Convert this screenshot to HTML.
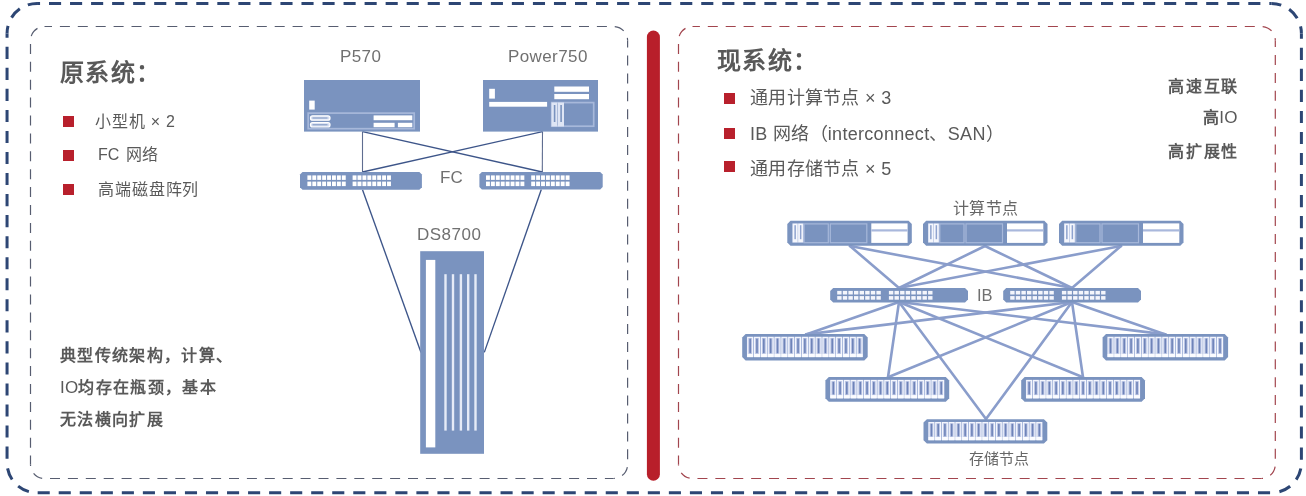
<!DOCTYPE html>
<html lang="zh-CN">
<head>
<meta charset="utf-8">
<style>
html,body{margin:0;padding:0;background:#fff;}
body{width:1306px;height:496px;position:relative;overflow:hidden;font-family:"Liberation Sans",sans-serif;color:#595959;}
svg{position:absolute;left:0;top:0;}
.t{position:absolute;white-space:nowrap;line-height:1;will-change:transform;}
.title{font-size:24px;font-weight:bold;letter-spacing:1.4px;}
.li{font-size:16px;letter-spacing:0.9px;}
.ri{font-size:18px;letter-spacing:0.3px;}
.bold16{font-size:16px;font-weight:bold;letter-spacing:1.35px;}
.lab{font-size:17px;color:#707070;letter-spacing:0.4px;}
.sq{position:absolute;background:#b8202c;}
</style>
</head>
<body>
<svg width="1306" height="496" viewBox="0 0 1306 496">
  <!-- frames -->
<path d="M37.05 3.40 H1271.40" fill="none" stroke="#2d4674" stroke-width="3" stroke-dasharray="12.10 8.94" stroke-dashoffset="9.090"/>
<path d="M1301.40 33.40 V462.80" fill="none" stroke="#2d4674" stroke-width="3" stroke-dasharray="12.10 8.94" stroke-dashoffset="6.660"/>
<path d="M37.05 492.80 H1271.40" fill="none" stroke="#2d4674" stroke-width="3" stroke-dasharray="12.10 8.94" stroke-dashoffset="20.430"/>
<path d="M7.05 33.40 V462.80" fill="none" stroke="#2d4674" stroke-width="3" stroke-dasharray="12.10 8.94" stroke-dashoffset="7.660"/>
<path d="M1271.40 3.40 A30 30 0 0 1 1301.40 33.40" fill="none" stroke="#2d4674" stroke-width="3" stroke-dasharray="12.10 8.94" stroke-dashoffset="2.080"/>
<path d="M1301.40 462.80 A30 30 0 0 1 1271.40 492.80" fill="none" stroke="#2d4674" stroke-width="3" stroke-dasharray="12.10 8.94" stroke-dashoffset="15.260"/>
<path d="M37.05 492.80 A30 30 0 0 1 7.05 462.80" fill="none" stroke="#2d4674" stroke-width="3" stroke-dasharray="12.10 8.94" stroke-dashoffset="12.710"/>
<path d="M7.05 33.40 A30 30 0 0 1 37.05 3.40" fill="none" stroke="#2d4674" stroke-width="3" stroke-dasharray="12.10 8.94" stroke-dashoffset="4.440"/>
<path d="M44.50 26.50 H613.60" fill="none" stroke="#575d70" stroke-width="1.2" stroke-dasharray="10.00 7.90" stroke-dashoffset="2.500"/>
<path d="M627.60 40.50 V464.50" fill="none" stroke="#575d70" stroke-width="1.2" stroke-dasharray="10.00 7.90" stroke-dashoffset="2.900"/>
<path d="M44.50 478.50 H613.60" fill="none" stroke="#575d70" stroke-width="1.2" stroke-dasharray="10.00 7.90" stroke-dashoffset="12.400"/>
<path d="M30.50 40.50 V464.50" fill="none" stroke="#575d70" stroke-width="1.2" stroke-dasharray="10.00 7.90" stroke-dashoffset="14.500"/>
<path d="M613.60 26.50 A14 14 0 0 1 627.60 40.50" fill="none" stroke="#575d70" stroke-width="1.2" stroke-dasharray="10.00 7.90" stroke-dashoffset="16.700"/>
<path d="M627.60 464.50 A14 14 0 0 1 613.60 478.50" fill="none" stroke="#575d70" stroke-width="1.2" stroke-dasharray="10.00 7.90" stroke-dashoffset="15.200"/>
<path d="M44.50 478.50 A14 14 0 0 1 30.50 464.50" fill="none" stroke="#575d70" stroke-width="1.2" stroke-dasharray="10.00 7.90" stroke-dashoffset="15.500"/>
<path d="M30.50 40.50 A14 14 0 0 1 44.50 26.50" fill="none" stroke="#575d70" stroke-width="1.2" stroke-dasharray="10.00 7.90" stroke-dashoffset="13.400"/>
<path d="M692.50 26.50 H1261.30" fill="none" stroke="#a2454e" stroke-width="1.2" stroke-dasharray="10.00 7.90" stroke-dashoffset="2.600"/>
<path d="M1275.30 40.50 V464.50" fill="none" stroke="#a2454e" stroke-width="1.2" stroke-dasharray="10.00 7.90" stroke-dashoffset="3.400"/>
<path d="M692.50 478.50 H1261.30" fill="none" stroke="#a2454e" stroke-width="1.2" stroke-dasharray="10.00 7.90" stroke-dashoffset="12.950"/>
<path d="M678.50 40.50 V464.50" fill="none" stroke="#a2454e" stroke-width="1.2" stroke-dasharray="10.00 7.90" stroke-dashoffset="14.500"/>
<path d="M1261.30 26.50 A14 14 0 0 1 1275.30 40.50" fill="none" stroke="#a2454e" stroke-width="1.2" stroke-dasharray="10.00 7.90" stroke-dashoffset="16.500"/>
<path d="M1275.30 464.50 A14 14 0 0 1 1261.30 478.50" fill="none" stroke="#a2454e" stroke-width="1.2" stroke-dasharray="10.00 7.90" stroke-dashoffset="15.700"/>
<path d="M692.50 478.50 A14 14 0 0 1 678.50 464.50" fill="none" stroke="#a2454e" stroke-width="1.2" stroke-dasharray="10.00 7.90" stroke-dashoffset="14.950"/>
<path d="M678.50 40.50 A14 14 0 0 1 692.50 26.50" fill="none" stroke="#a2454e" stroke-width="1.2" stroke-dasharray="10.00 7.90" stroke-dashoffset="13.400"/>
  <line x1="653.4" y1="37.1" x2="653.4" y2="474.2" stroke="#b81f2a" stroke-width="13" stroke-linecap="round"/>

  <!-- left lines -->
  <g stroke="#5f6d90" stroke-width="1.1" fill="none">
    <line x1="362.5" y1="131.6" x2="362.5" y2="172"/>
    <line x1="542.5" y1="131.6" x2="542.3" y2="172"/>
  </g>
  <g stroke="#3d5589" stroke-width="1.35" fill="none">
    <line x1="362.5" y1="131.6" x2="542.3" y2="172"/>
    <line x1="542.5" y1="131.6" x2="362.5" y2="172"/>
    <line x1="362.5" y1="189.7" x2="421" y2="352.4"/>
    <line x1="541.3" y1="189.5" x2="484.3" y2="352.4"/>
  </g>

  <!-- P570 -->
  <g>
    <rect x="304" y="80" width="116" height="51.6" fill="#7a93bf"/>
    <rect x="309.2" y="100.6" width="5.5" height="9" fill="#fff"/>
    <rect x="308.2" y="113.1" width="106" height="15.6" fill="none" stroke="#a7b8da" stroke-width="1.7"/>
    <rect x="310.5" y="115.8" width="19.5" height="4.4" rx="2" fill="#d5ddf0" stroke="#fff" stroke-width="1.2"/>
    <rect x="310.5" y="122.6" width="19.5" height="4.4" rx="2" fill="#d5ddf0" stroke="#fff" stroke-width="1.2"/>
    <path d="M312.5 118 H327.5 M312.5 124.8 H327.5" stroke="#7a93bf" stroke-width="1"/>
    <rect x="373.6" y="115.4" width="38.7" height="4.8" fill="#fff"/>
    <rect x="373.6" y="122.8" width="21" height="4.4" fill="#fff"/>
    <rect x="397.9" y="122.8" width="14.4" height="4.4" fill="#fff"/>
  </g>
  <!-- Power750 -->
  <g>
    <rect x="483" y="80" width="115" height="51.6" fill="#7a93bf"/>
    <rect x="489.2" y="88.8" width="5.7" height="9.8" fill="#fff"/>
    <rect x="489.2" y="101.9" width="57.9" height="4.8" fill="#fff"/>
    <rect x="554.3" y="86.5" width="34.7" height="5.3" fill="#fff"/>
    <rect x="554.3" y="94" width="34.7" height="5.2" fill="#fff"/>
    <rect x="551.7" y="102.6" width="42" height="23.6" fill="none" stroke="#a7b8da" stroke-width="1.7"/>
    <rect x="551.5" y="102.5" width="6" height="24" fill="#dfe6f5"/>
    <rect x="558" y="102.5" width="6" height="24" fill="#dfe6f5"/>
    <rect x="553.8" y="105" width="1.6" height="17" fill="#7a93bf"/>
    <rect x="560.3" y="105" width="1.6" height="17" fill="#7a93bf"/>
  </g>
  <!-- FC switches -->
  <g id="fcsw">
    <path d="M302.5 172.1 H419.4 L421.9 174.6 V187.2 L419.4 189.7 H302.5 L300 187.2 V174.6 Z" fill="#7a93bf"/>
  </g>
  <path d="M481.9 172 H600.2 L602.7 174.5 V187 L600.2 189.5 H481.9 L479.4 187 V174.5 Z" fill="#7a93bf"/>
  <rect x="307.40" y="175.40" width="3.9" height="4.5" fill="#fff"/>
<rect x="312.32" y="175.40" width="3.9" height="4.5" fill="#fff"/>
<rect x="317.24" y="175.40" width="3.9" height="4.5" fill="#fff"/>
<rect x="322.16" y="175.40" width="3.9" height="4.5" fill="#fff"/>
<rect x="327.08" y="175.40" width="3.9" height="4.5" fill="#fff"/>
<rect x="332.00" y="175.40" width="3.9" height="4.5" fill="#fff"/>
<rect x="336.92" y="175.40" width="3.9" height="4.5" fill="#fff"/>
<rect x="341.84" y="175.40" width="3.9" height="4.5" fill="#fff"/>
<rect x="307.40" y="181.60" width="3.9" height="4.5" fill="#fff"/>
<rect x="312.32" y="181.60" width="3.9" height="4.5" fill="#fff"/>
<rect x="317.24" y="181.60" width="3.9" height="4.5" fill="#fff"/>
<rect x="322.16" y="181.60" width="3.9" height="4.5" fill="#fff"/>
<rect x="327.08" y="181.60" width="3.9" height="4.5" fill="#fff"/>
<rect x="332.00" y="181.60" width="3.9" height="4.5" fill="#fff"/>
<rect x="336.92" y="181.60" width="3.9" height="4.5" fill="#fff"/>
<rect x="341.84" y="181.60" width="3.9" height="4.5" fill="#fff"/>
<rect x="352.60" y="175.40" width="3.9" height="4.5" fill="#fff"/>
<rect x="357.52" y="175.40" width="3.9" height="4.5" fill="#fff"/>
<rect x="362.44" y="175.40" width="3.9" height="4.5" fill="#fff"/>
<rect x="367.36" y="175.40" width="3.9" height="4.5" fill="#fff"/>
<rect x="372.28" y="175.40" width="3.9" height="4.5" fill="#fff"/>
<rect x="377.20" y="175.40" width="3.9" height="4.5" fill="#fff"/>
<rect x="382.12" y="175.40" width="3.9" height="4.5" fill="#fff"/>
<rect x="387.04" y="175.40" width="3.9" height="4.5" fill="#fff"/>
<rect x="352.60" y="181.60" width="3.9" height="4.5" fill="#fff"/>
<rect x="357.52" y="181.60" width="3.9" height="4.5" fill="#fff"/>
<rect x="362.44" y="181.60" width="3.9" height="4.5" fill="#fff"/>
<rect x="367.36" y="181.60" width="3.9" height="4.5" fill="#fff"/>
<rect x="372.28" y="181.60" width="3.9" height="4.5" fill="#fff"/>
<rect x="377.20" y="181.60" width="3.9" height="4.5" fill="#fff"/>
<rect x="382.12" y="181.60" width="3.9" height="4.5" fill="#fff"/>
<rect x="387.04" y="181.60" width="3.9" height="4.5" fill="#fff"/><rect x="486.00" y="175.40" width="3.9" height="4.5" fill="#fff"/>
<rect x="490.92" y="175.40" width="3.9" height="4.5" fill="#fff"/>
<rect x="495.84" y="175.40" width="3.9" height="4.5" fill="#fff"/>
<rect x="500.76" y="175.40" width="3.9" height="4.5" fill="#fff"/>
<rect x="505.68" y="175.40" width="3.9" height="4.5" fill="#fff"/>
<rect x="510.60" y="175.40" width="3.9" height="4.5" fill="#fff"/>
<rect x="515.52" y="175.40" width="3.9" height="4.5" fill="#fff"/>
<rect x="520.44" y="175.40" width="3.9" height="4.5" fill="#fff"/>
<rect x="486.00" y="181.60" width="3.9" height="4.5" fill="#fff"/>
<rect x="490.92" y="181.60" width="3.9" height="4.5" fill="#fff"/>
<rect x="495.84" y="181.60" width="3.9" height="4.5" fill="#fff"/>
<rect x="500.76" y="181.60" width="3.9" height="4.5" fill="#fff"/>
<rect x="505.68" y="181.60" width="3.9" height="4.5" fill="#fff"/>
<rect x="510.60" y="181.60" width="3.9" height="4.5" fill="#fff"/>
<rect x="515.52" y="181.60" width="3.9" height="4.5" fill="#fff"/>
<rect x="520.44" y="181.60" width="3.9" height="4.5" fill="#fff"/>
<rect x="531.20" y="175.40" width="3.9" height="4.5" fill="#fff"/>
<rect x="536.12" y="175.40" width="3.9" height="4.5" fill="#fff"/>
<rect x="541.04" y="175.40" width="3.9" height="4.5" fill="#fff"/>
<rect x="545.96" y="175.40" width="3.9" height="4.5" fill="#fff"/>
<rect x="550.88" y="175.40" width="3.9" height="4.5" fill="#fff"/>
<rect x="555.80" y="175.40" width="3.9" height="4.5" fill="#fff"/>
<rect x="560.72" y="175.40" width="3.9" height="4.5" fill="#fff"/>
<rect x="565.64" y="175.40" width="3.9" height="4.5" fill="#fff"/>
<rect x="531.20" y="181.60" width="3.9" height="4.5" fill="#fff"/>
<rect x="536.12" y="181.60" width="3.9" height="4.5" fill="#fff"/>
<rect x="541.04" y="181.60" width="3.9" height="4.5" fill="#fff"/>
<rect x="545.96" y="181.60" width="3.9" height="4.5" fill="#fff"/>
<rect x="550.88" y="181.60" width="3.9" height="4.5" fill="#fff"/>
<rect x="555.80" y="181.60" width="3.9" height="4.5" fill="#fff"/>
<rect x="560.72" y="181.60" width="3.9" height="4.5" fill="#fff"/>
<rect x="565.64" y="181.60" width="3.9" height="4.5" fill="#fff"/>

  <!-- DS8700 -->
  <rect x="420.2" y="251.2" width="63.8" height="202.6" fill="#7a93bf"/>
  <rect x="425.9" y="259.9" width="9.4" height="187.5" fill="#fff"/>
  <g fill="#e6ebf7">
    <rect x="444.3" y="274.2" width="2.4" height="156.4"/>
    <rect x="451.8" y="274.2" width="2.4" height="156.4"/>
    <rect x="459.7" y="274.2" width="2.4" height="156.4"/>
    <rect x="467" y="274.2" width="2.4" height="156.4"/>
    <rect x="474.3" y="274.2" width="2.4" height="156.4"/>
  </g>

  <!-- right network lines -->
  <g stroke="#8a9dcb" stroke-width="2.6" fill="none" stroke-linecap="round">
    <line x1="850" y1="246" x2="899" y2="288"/>
    <line x1="850" y1="246" x2="1072" y2="288"/>
    <line x1="985" y1="246" x2="899" y2="288"/>
    <line x1="985" y1="246" x2="1072" y2="288"/>
    <line x1="1121" y1="246" x2="899" y2="288"/>
    <line x1="1121" y1="246" x2="1072" y2="288"/>
    <line x1="899" y1="302" x2="806" y2="334.4"/>
    <line x1="899" y1="302" x2="888" y2="377.3"/>
    <line x1="899" y1="302" x2="986" y2="419"/>
    <line x1="899" y1="302" x2="1083" y2="377.3"/>
    <line x1="899" y1="302" x2="1165.5" y2="334.4"/>
    <line x1="1072" y1="302" x2="806" y2="334.4"/>
    <line x1="1072" y1="302" x2="888" y2="377.3"/>
    <line x1="1072" y1="302" x2="986" y2="419"/>
    <line x1="1072" y1="302" x2="1083" y2="377.3"/>
    <line x1="1072" y1="302" x2="1165.5" y2="334.4"/>
  </g>
  <path d="M790.50 220.70 H908.60 L911.80 223.90 V242.50 L908.60 245.70 H790.50 L787.30 242.50 V223.90 Z" fill="#7a93bf"/>
<rect x="792.30" y="223.40" width="11.5" height="19.3" fill="#c5cfe8"/>
<rect x="792.80" y="223.70" width="4.6" height="18.5" fill="#f5f7fd"/>
<rect x="798.30" y="223.70" width="4.6" height="18.5" fill="#f5f7fd"/>
<rect x="794.40" y="225.20" width="1.5" height="14" fill="#8fa3cf"/>
<rect x="799.90" y="225.20" width="1.5" height="14" fill="#8fa3cf"/>
<rect x="804.10" y="223.90" width="24.2" height="18.8" fill="#7a93bf" stroke="#a7b8da" stroke-width="1.2"/>
<rect x="830.30" y="223.90" width="36.5" height="18.8" fill="#7a93bf" stroke="#a7b8da" stroke-width="1.2"/>
<rect x="871.30" y="223.40" width="36.3" height="19.5" fill="#fff"/>
<rect x="871.30" y="229.30" width="36.3" height="2.2" fill="#a9b8dc"/>
<path d="M926.20 220.70 H1044.30 L1047.50 223.90 V242.50 L1044.30 245.70 H926.20 L923.00 242.50 V223.90 Z" fill="#7a93bf"/>
<rect x="928.00" y="223.40" width="11.5" height="19.3" fill="#c5cfe8"/>
<rect x="928.50" y="223.70" width="4.6" height="18.5" fill="#f5f7fd"/>
<rect x="934.00" y="223.70" width="4.6" height="18.5" fill="#f5f7fd"/>
<rect x="930.10" y="225.20" width="1.5" height="14" fill="#8fa3cf"/>
<rect x="935.60" y="225.20" width="1.5" height="14" fill="#8fa3cf"/>
<rect x="939.80" y="223.90" width="24.2" height="18.8" fill="#7a93bf" stroke="#a7b8da" stroke-width="1.2"/>
<rect x="966.00" y="223.90" width="36.5" height="18.8" fill="#7a93bf" stroke="#a7b8da" stroke-width="1.2"/>
<rect x="1007.00" y="223.40" width="36.3" height="19.5" fill="#fff"/>
<rect x="1007.00" y="229.30" width="36.3" height="2.2" fill="#a9b8dc"/>
<path d="M1062.20 220.70 H1180.30 L1183.50 223.90 V242.50 L1180.30 245.70 H1062.20 L1059.00 242.50 V223.90 Z" fill="#7a93bf"/>
<rect x="1064.00" y="223.40" width="11.5" height="19.3" fill="#c5cfe8"/>
<rect x="1064.50" y="223.70" width="4.6" height="18.5" fill="#f5f7fd"/>
<rect x="1070.00" y="223.70" width="4.6" height="18.5" fill="#f5f7fd"/>
<rect x="1066.10" y="225.20" width="1.5" height="14" fill="#8fa3cf"/>
<rect x="1071.60" y="225.20" width="1.5" height="14" fill="#8fa3cf"/>
<rect x="1075.80" y="223.90" width="24.2" height="18.8" fill="#7a93bf" stroke="#a7b8da" stroke-width="1.2"/>
<rect x="1102.00" y="223.90" width="36.5" height="18.8" fill="#7a93bf" stroke="#a7b8da" stroke-width="1.2"/>
<rect x="1143.00" y="223.40" width="36.3" height="19.5" fill="#fff"/>
<rect x="1143.00" y="229.30" width="36.3" height="2.2" fill="#a9b8dc"/>
<path d="M833.20 288.00 H965.00 L968.00 291.00 V299.40 L965.00 302.40 H833.20 L830.20 299.40 V291.00 Z" fill="#7a93bf"/><path d="M1006.20 288.00 H1138.00 L1141.00 291.00 V299.40 L1138.00 302.40 H1006.20 L1003.20 299.40 V291.00 Z" fill="#7a93bf"/><rect x="837.20" y="290.90" width="4.4" height="3.6" fill="#f4f6fc"/>
<rect x="842.80" y="290.90" width="4.4" height="3.6" fill="#f4f6fc"/>
<rect x="848.40" y="290.90" width="4.4" height="3.6" fill="#f4f6fc"/>
<rect x="854.00" y="290.90" width="4.4" height="3.6" fill="#f4f6fc"/>
<rect x="859.60" y="290.90" width="4.4" height="3.6" fill="#f4f6fc"/>
<rect x="865.20" y="290.90" width="4.4" height="3.6" fill="#f4f6fc"/>
<rect x="870.80" y="290.90" width="4.4" height="3.6" fill="#f4f6fc"/>
<rect x="876.40" y="290.90" width="4.4" height="3.6" fill="#f4f6fc"/>
<rect x="837.20" y="296.10" width="4.4" height="3.6" fill="#f4f6fc"/>
<rect x="842.80" y="296.10" width="4.4" height="3.6" fill="#f4f6fc"/>
<rect x="848.40" y="296.10" width="4.4" height="3.6" fill="#f4f6fc"/>
<rect x="854.00" y="296.10" width="4.4" height="3.6" fill="#f4f6fc"/>
<rect x="859.60" y="296.10" width="4.4" height="3.6" fill="#f4f6fc"/>
<rect x="865.20" y="296.10" width="4.4" height="3.6" fill="#f4f6fc"/>
<rect x="870.80" y="296.10" width="4.4" height="3.6" fill="#f4f6fc"/>
<rect x="876.40" y="296.10" width="4.4" height="3.6" fill="#f4f6fc"/>
<rect x="888.90" y="290.90" width="4.4" height="3.6" fill="#f4f6fc"/>
<rect x="894.50" y="290.90" width="4.4" height="3.6" fill="#f4f6fc"/>
<rect x="900.10" y="290.90" width="4.4" height="3.6" fill="#f4f6fc"/>
<rect x="905.70" y="290.90" width="4.4" height="3.6" fill="#f4f6fc"/>
<rect x="911.30" y="290.90" width="4.4" height="3.6" fill="#f4f6fc"/>
<rect x="916.90" y="290.90" width="4.4" height="3.6" fill="#f4f6fc"/>
<rect x="922.50" y="290.90" width="4.4" height="3.6" fill="#f4f6fc"/>
<rect x="928.10" y="290.90" width="4.4" height="3.6" fill="#f4f6fc"/>
<rect x="888.90" y="296.10" width="4.4" height="3.6" fill="#f4f6fc"/>
<rect x="894.50" y="296.10" width="4.4" height="3.6" fill="#f4f6fc"/>
<rect x="900.10" y="296.10" width="4.4" height="3.6" fill="#f4f6fc"/>
<rect x="905.70" y="296.10" width="4.4" height="3.6" fill="#f4f6fc"/>
<rect x="911.30" y="296.10" width="4.4" height="3.6" fill="#f4f6fc"/>
<rect x="916.90" y="296.10" width="4.4" height="3.6" fill="#f4f6fc"/>
<rect x="922.50" y="296.10" width="4.4" height="3.6" fill="#f4f6fc"/>
<rect x="928.10" y="296.10" width="4.4" height="3.6" fill="#f4f6fc"/><rect x="1010.20" y="290.90" width="4.4" height="3.6" fill="#f4f6fc"/>
<rect x="1015.80" y="290.90" width="4.4" height="3.6" fill="#f4f6fc"/>
<rect x="1021.40" y="290.90" width="4.4" height="3.6" fill="#f4f6fc"/>
<rect x="1027.00" y="290.90" width="4.4" height="3.6" fill="#f4f6fc"/>
<rect x="1032.60" y="290.90" width="4.4" height="3.6" fill="#f4f6fc"/>
<rect x="1038.20" y="290.90" width="4.4" height="3.6" fill="#f4f6fc"/>
<rect x="1043.80" y="290.90" width="4.4" height="3.6" fill="#f4f6fc"/>
<rect x="1049.40" y="290.90" width="4.4" height="3.6" fill="#f4f6fc"/>
<rect x="1010.20" y="296.10" width="4.4" height="3.6" fill="#f4f6fc"/>
<rect x="1015.80" y="296.10" width="4.4" height="3.6" fill="#f4f6fc"/>
<rect x="1021.40" y="296.10" width="4.4" height="3.6" fill="#f4f6fc"/>
<rect x="1027.00" y="296.10" width="4.4" height="3.6" fill="#f4f6fc"/>
<rect x="1032.60" y="296.10" width="4.4" height="3.6" fill="#f4f6fc"/>
<rect x="1038.20" y="296.10" width="4.4" height="3.6" fill="#f4f6fc"/>
<rect x="1043.80" y="296.10" width="4.4" height="3.6" fill="#f4f6fc"/>
<rect x="1049.40" y="296.10" width="4.4" height="3.6" fill="#f4f6fc"/>
<rect x="1061.90" y="290.90" width="4.4" height="3.6" fill="#f4f6fc"/>
<rect x="1067.50" y="290.90" width="4.4" height="3.6" fill="#f4f6fc"/>
<rect x="1073.10" y="290.90" width="4.4" height="3.6" fill="#f4f6fc"/>
<rect x="1078.70" y="290.90" width="4.4" height="3.6" fill="#f4f6fc"/>
<rect x="1084.30" y="290.90" width="4.4" height="3.6" fill="#f4f6fc"/>
<rect x="1089.90" y="290.90" width="4.4" height="3.6" fill="#f4f6fc"/>
<rect x="1095.50" y="290.90" width="4.4" height="3.6" fill="#f4f6fc"/>
<rect x="1101.10" y="290.90" width="4.4" height="3.6" fill="#f4f6fc"/>
<rect x="1061.90" y="296.10" width="4.4" height="3.6" fill="#f4f6fc"/>
<rect x="1067.50" y="296.10" width="4.4" height="3.6" fill="#f4f6fc"/>
<rect x="1073.10" y="296.10" width="4.4" height="3.6" fill="#f4f6fc"/>
<rect x="1078.70" y="296.10" width="4.4" height="3.6" fill="#f4f6fc"/>
<rect x="1084.30" y="296.10" width="4.4" height="3.6" fill="#f4f6fc"/>
<rect x="1089.90" y="296.10" width="4.4" height="3.6" fill="#f4f6fc"/>
<rect x="1095.50" y="296.10" width="4.4" height="3.6" fill="#f4f6fc"/>
<rect x="1101.10" y="296.10" width="4.4" height="3.6" fill="#f4f6fc"/>
<path d="M745.60 334.00 H864.30 L867.70 337.40 V357.10 L864.30 360.50 H745.60 L742.20 357.10 V337.40 Z" fill="#7a93bf"/>
<rect x="746.80" y="336.60" width="116.30" height="20.50" fill="#8fa3d0"/>
<rect x="747.70" y="337.40" width="4.94" height="19.10" fill="#b9c4e4" stroke="#f4f6fd" stroke-width="1.2"/>
<rect x="747.15" y="353.90" width="5.94" height="3.2" fill="#fbfcff"/>
<rect x="749.35" y="338.60" width="1.6" height="14.70" rx="0.8" fill="#6e83b8"/>
<rect x="754.54" y="337.40" width="4.94" height="19.10" fill="#b9c4e4" stroke="#f4f6fd" stroke-width="1.2"/>
<rect x="753.99" y="353.90" width="5.94" height="3.2" fill="#fbfcff"/>
<rect x="756.19" y="338.60" width="1.6" height="14.70" rx="0.8" fill="#6e83b8"/>
<rect x="761.38" y="337.40" width="4.94" height="19.10" fill="#b9c4e4" stroke="#f4f6fd" stroke-width="1.2"/>
<rect x="760.83" y="353.90" width="5.94" height="3.2" fill="#fbfcff"/>
<rect x="763.03" y="338.60" width="1.6" height="14.70" rx="0.8" fill="#6e83b8"/>
<rect x="768.22" y="337.40" width="4.94" height="19.10" fill="#b9c4e4" stroke="#f4f6fd" stroke-width="1.2"/>
<rect x="767.67" y="353.90" width="5.94" height="3.2" fill="#fbfcff"/>
<rect x="769.87" y="338.60" width="1.6" height="14.70" rx="0.8" fill="#6e83b8"/>
<rect x="775.06" y="337.40" width="4.94" height="19.10" fill="#b9c4e4" stroke="#f4f6fd" stroke-width="1.2"/>
<rect x="774.51" y="353.90" width="5.94" height="3.2" fill="#fbfcff"/>
<rect x="776.71" y="338.60" width="1.6" height="14.70" rx="0.8" fill="#6e83b8"/>
<rect x="781.91" y="337.40" width="4.94" height="19.10" fill="#b9c4e4" stroke="#f4f6fd" stroke-width="1.2"/>
<rect x="781.36" y="353.90" width="5.94" height="3.2" fill="#fbfcff"/>
<rect x="783.56" y="338.60" width="1.6" height="14.70" rx="0.8" fill="#6e83b8"/>
<rect x="788.75" y="337.40" width="4.94" height="19.10" fill="#b9c4e4" stroke="#f4f6fd" stroke-width="1.2"/>
<rect x="788.20" y="353.90" width="5.94" height="3.2" fill="#fbfcff"/>
<rect x="790.40" y="338.60" width="1.6" height="14.70" rx="0.8" fill="#6e83b8"/>
<rect x="795.59" y="337.40" width="4.94" height="19.10" fill="#b9c4e4" stroke="#f4f6fd" stroke-width="1.2"/>
<rect x="795.04" y="353.90" width="5.94" height="3.2" fill="#fbfcff"/>
<rect x="797.24" y="338.60" width="1.6" height="14.70" rx="0.8" fill="#6e83b8"/>
<rect x="802.43" y="337.40" width="4.94" height="19.10" fill="#b9c4e4" stroke="#f4f6fd" stroke-width="1.2"/>
<rect x="801.88" y="353.90" width="5.94" height="3.2" fill="#fbfcff"/>
<rect x="804.08" y="338.60" width="1.6" height="14.70" rx="0.8" fill="#6e83b8"/>
<rect x="809.27" y="337.40" width="4.94" height="19.10" fill="#b9c4e4" stroke="#f4f6fd" stroke-width="1.2"/>
<rect x="808.72" y="353.90" width="5.94" height="3.2" fill="#fbfcff"/>
<rect x="810.92" y="338.60" width="1.6" height="14.70" rx="0.8" fill="#6e83b8"/>
<rect x="816.11" y="337.40" width="4.94" height="19.10" fill="#b9c4e4" stroke="#f4f6fd" stroke-width="1.2"/>
<rect x="815.56" y="353.90" width="5.94" height="3.2" fill="#fbfcff"/>
<rect x="817.76" y="338.60" width="1.6" height="14.70" rx="0.8" fill="#6e83b8"/>
<rect x="822.95" y="337.40" width="4.94" height="19.10" fill="#b9c4e4" stroke="#f4f6fd" stroke-width="1.2"/>
<rect x="822.40" y="353.90" width="5.94" height="3.2" fill="#fbfcff"/>
<rect x="824.60" y="338.60" width="1.6" height="14.70" rx="0.8" fill="#6e83b8"/>
<rect x="829.79" y="337.40" width="4.94" height="19.10" fill="#b9c4e4" stroke="#f4f6fd" stroke-width="1.2"/>
<rect x="829.24" y="353.90" width="5.94" height="3.2" fill="#fbfcff"/>
<rect x="831.44" y="338.60" width="1.6" height="14.70" rx="0.8" fill="#6e83b8"/>
<rect x="836.64" y="337.40" width="4.94" height="19.10" fill="#b9c4e4" stroke="#f4f6fd" stroke-width="1.2"/>
<rect x="836.09" y="353.90" width="5.94" height="3.2" fill="#fbfcff"/>
<rect x="838.29" y="338.60" width="1.6" height="14.70" rx="0.8" fill="#6e83b8"/>
<rect x="843.48" y="337.40" width="4.94" height="19.10" fill="#b9c4e4" stroke="#f4f6fd" stroke-width="1.2"/>
<rect x="842.93" y="353.90" width="5.94" height="3.2" fill="#fbfcff"/>
<rect x="845.13" y="338.60" width="1.6" height="14.70" rx="0.8" fill="#6e83b8"/>
<rect x="850.32" y="337.40" width="4.94" height="19.10" fill="#b9c4e4" stroke="#f4f6fd" stroke-width="1.2"/>
<rect x="849.77" y="353.90" width="5.94" height="3.2" fill="#fbfcff"/>
<rect x="851.97" y="338.60" width="1.6" height="14.70" rx="0.8" fill="#6e83b8"/>
<rect x="857.16" y="337.40" width="4.94" height="19.10" fill="#b9c4e4" stroke="#f4f6fd" stroke-width="1.2"/>
<rect x="856.61" y="353.90" width="5.94" height="3.2" fill="#fbfcff"/>
<rect x="858.81" y="338.60" width="1.6" height="14.70" rx="0.8" fill="#6e83b8"/>
<path d="M828.80 377.10 H945.80 L949.20 380.50 V398.30 L945.80 401.70 H828.80 L825.40 398.30 V380.50 Z" fill="#7a93bf"/>
<rect x="830.00" y="379.70" width="114.60" height="18.60" fill="#8fa3d0"/>
<rect x="830.90" y="380.50" width="4.84" height="17.20" fill="#b9c4e4" stroke="#f4f6fd" stroke-width="1.2"/>
<rect x="830.35" y="395.10" width="5.84" height="3.2" fill="#fbfcff"/>
<rect x="832.55" y="381.70" width="1.6" height="12.80" rx="0.8" fill="#6e83b8"/>
<rect x="837.64" y="380.50" width="4.84" height="17.20" fill="#b9c4e4" stroke="#f4f6fd" stroke-width="1.2"/>
<rect x="837.09" y="395.10" width="5.84" height="3.2" fill="#fbfcff"/>
<rect x="839.29" y="381.70" width="1.6" height="12.80" rx="0.8" fill="#6e83b8"/>
<rect x="844.38" y="380.50" width="4.84" height="17.20" fill="#b9c4e4" stroke="#f4f6fd" stroke-width="1.2"/>
<rect x="843.83" y="395.10" width="5.84" height="3.2" fill="#fbfcff"/>
<rect x="846.03" y="381.70" width="1.6" height="12.80" rx="0.8" fill="#6e83b8"/>
<rect x="851.12" y="380.50" width="4.84" height="17.20" fill="#b9c4e4" stroke="#f4f6fd" stroke-width="1.2"/>
<rect x="850.57" y="395.10" width="5.84" height="3.2" fill="#fbfcff"/>
<rect x="852.77" y="381.70" width="1.6" height="12.80" rx="0.8" fill="#6e83b8"/>
<rect x="857.86" y="380.50" width="4.84" height="17.20" fill="#b9c4e4" stroke="#f4f6fd" stroke-width="1.2"/>
<rect x="857.31" y="395.10" width="5.84" height="3.2" fill="#fbfcff"/>
<rect x="859.51" y="381.70" width="1.6" height="12.80" rx="0.8" fill="#6e83b8"/>
<rect x="864.61" y="380.50" width="4.84" height="17.20" fill="#b9c4e4" stroke="#f4f6fd" stroke-width="1.2"/>
<rect x="864.06" y="395.10" width="5.84" height="3.2" fill="#fbfcff"/>
<rect x="866.26" y="381.70" width="1.6" height="12.80" rx="0.8" fill="#6e83b8"/>
<rect x="871.35" y="380.50" width="4.84" height="17.20" fill="#b9c4e4" stroke="#f4f6fd" stroke-width="1.2"/>
<rect x="870.80" y="395.10" width="5.84" height="3.2" fill="#fbfcff"/>
<rect x="873.00" y="381.70" width="1.6" height="12.80" rx="0.8" fill="#6e83b8"/>
<rect x="878.09" y="380.50" width="4.84" height="17.20" fill="#b9c4e4" stroke="#f4f6fd" stroke-width="1.2"/>
<rect x="877.54" y="395.10" width="5.84" height="3.2" fill="#fbfcff"/>
<rect x="879.74" y="381.70" width="1.6" height="12.80" rx="0.8" fill="#6e83b8"/>
<rect x="884.83" y="380.50" width="4.84" height="17.20" fill="#b9c4e4" stroke="#f4f6fd" stroke-width="1.2"/>
<rect x="884.28" y="395.10" width="5.84" height="3.2" fill="#fbfcff"/>
<rect x="886.48" y="381.70" width="1.6" height="12.80" rx="0.8" fill="#6e83b8"/>
<rect x="891.57" y="380.50" width="4.84" height="17.20" fill="#b9c4e4" stroke="#f4f6fd" stroke-width="1.2"/>
<rect x="891.02" y="395.10" width="5.84" height="3.2" fill="#fbfcff"/>
<rect x="893.22" y="381.70" width="1.6" height="12.80" rx="0.8" fill="#6e83b8"/>
<rect x="898.31" y="380.50" width="4.84" height="17.20" fill="#b9c4e4" stroke="#f4f6fd" stroke-width="1.2"/>
<rect x="897.76" y="395.10" width="5.84" height="3.2" fill="#fbfcff"/>
<rect x="899.96" y="381.70" width="1.6" height="12.80" rx="0.8" fill="#6e83b8"/>
<rect x="905.05" y="380.50" width="4.84" height="17.20" fill="#b9c4e4" stroke="#f4f6fd" stroke-width="1.2"/>
<rect x="904.50" y="395.10" width="5.84" height="3.2" fill="#fbfcff"/>
<rect x="906.70" y="381.70" width="1.6" height="12.80" rx="0.8" fill="#6e83b8"/>
<rect x="911.79" y="380.50" width="4.84" height="17.20" fill="#b9c4e4" stroke="#f4f6fd" stroke-width="1.2"/>
<rect x="911.24" y="395.10" width="5.84" height="3.2" fill="#fbfcff"/>
<rect x="913.44" y="381.70" width="1.6" height="12.80" rx="0.8" fill="#6e83b8"/>
<rect x="918.54" y="380.50" width="4.84" height="17.20" fill="#b9c4e4" stroke="#f4f6fd" stroke-width="1.2"/>
<rect x="917.99" y="395.10" width="5.84" height="3.2" fill="#fbfcff"/>
<rect x="920.19" y="381.70" width="1.6" height="12.80" rx="0.8" fill="#6e83b8"/>
<rect x="925.28" y="380.50" width="4.84" height="17.20" fill="#b9c4e4" stroke="#f4f6fd" stroke-width="1.2"/>
<rect x="924.73" y="395.10" width="5.84" height="3.2" fill="#fbfcff"/>
<rect x="926.93" y="381.70" width="1.6" height="12.80" rx="0.8" fill="#6e83b8"/>
<rect x="932.02" y="380.50" width="4.84" height="17.20" fill="#b9c4e4" stroke="#f4f6fd" stroke-width="1.2"/>
<rect x="931.47" y="395.10" width="5.84" height="3.2" fill="#fbfcff"/>
<rect x="933.67" y="381.70" width="1.6" height="12.80" rx="0.8" fill="#6e83b8"/>
<rect x="938.76" y="380.50" width="4.84" height="17.20" fill="#b9c4e4" stroke="#f4f6fd" stroke-width="1.2"/>
<rect x="938.21" y="395.10" width="5.84" height="3.2" fill="#fbfcff"/>
<rect x="940.41" y="381.70" width="1.6" height="12.80" rx="0.8" fill="#6e83b8"/>
<path d="M926.90 419.20 H1043.90 L1047.30 422.60 V440.20 L1043.90 443.60 H926.90 L923.50 440.20 V422.60 Z" fill="#7a93bf"/>
<rect x="928.10" y="421.80" width="114.60" height="18.40" fill="#8fa3d0"/>
<rect x="929.00" y="422.60" width="4.84" height="17.00" fill="#b9c4e4" stroke="#f4f6fd" stroke-width="1.2"/>
<rect x="928.45" y="437.00" width="5.84" height="3.2" fill="#fbfcff"/>
<rect x="930.65" y="423.80" width="1.6" height="12.60" rx="0.8" fill="#6e83b8"/>
<rect x="935.74" y="422.60" width="4.84" height="17.00" fill="#b9c4e4" stroke="#f4f6fd" stroke-width="1.2"/>
<rect x="935.19" y="437.00" width="5.84" height="3.2" fill="#fbfcff"/>
<rect x="937.39" y="423.80" width="1.6" height="12.60" rx="0.8" fill="#6e83b8"/>
<rect x="942.48" y="422.60" width="4.84" height="17.00" fill="#b9c4e4" stroke="#f4f6fd" stroke-width="1.2"/>
<rect x="941.93" y="437.00" width="5.84" height="3.2" fill="#fbfcff"/>
<rect x="944.13" y="423.80" width="1.6" height="12.60" rx="0.8" fill="#6e83b8"/>
<rect x="949.22" y="422.60" width="4.84" height="17.00" fill="#b9c4e4" stroke="#f4f6fd" stroke-width="1.2"/>
<rect x="948.67" y="437.00" width="5.84" height="3.2" fill="#fbfcff"/>
<rect x="950.87" y="423.80" width="1.6" height="12.60" rx="0.8" fill="#6e83b8"/>
<rect x="955.96" y="422.60" width="4.84" height="17.00" fill="#b9c4e4" stroke="#f4f6fd" stroke-width="1.2"/>
<rect x="955.41" y="437.00" width="5.84" height="3.2" fill="#fbfcff"/>
<rect x="957.61" y="423.80" width="1.6" height="12.60" rx="0.8" fill="#6e83b8"/>
<rect x="962.71" y="422.60" width="4.84" height="17.00" fill="#b9c4e4" stroke="#f4f6fd" stroke-width="1.2"/>
<rect x="962.16" y="437.00" width="5.84" height="3.2" fill="#fbfcff"/>
<rect x="964.36" y="423.80" width="1.6" height="12.60" rx="0.8" fill="#6e83b8"/>
<rect x="969.45" y="422.60" width="4.84" height="17.00" fill="#b9c4e4" stroke="#f4f6fd" stroke-width="1.2"/>
<rect x="968.90" y="437.00" width="5.84" height="3.2" fill="#fbfcff"/>
<rect x="971.10" y="423.80" width="1.6" height="12.60" rx="0.8" fill="#6e83b8"/>
<rect x="976.19" y="422.60" width="4.84" height="17.00" fill="#b9c4e4" stroke="#f4f6fd" stroke-width="1.2"/>
<rect x="975.64" y="437.00" width="5.84" height="3.2" fill="#fbfcff"/>
<rect x="977.84" y="423.80" width="1.6" height="12.60" rx="0.8" fill="#6e83b8"/>
<rect x="982.93" y="422.60" width="4.84" height="17.00" fill="#b9c4e4" stroke="#f4f6fd" stroke-width="1.2"/>
<rect x="982.38" y="437.00" width="5.84" height="3.2" fill="#fbfcff"/>
<rect x="984.58" y="423.80" width="1.6" height="12.60" rx="0.8" fill="#6e83b8"/>
<rect x="989.67" y="422.60" width="4.84" height="17.00" fill="#b9c4e4" stroke="#f4f6fd" stroke-width="1.2"/>
<rect x="989.12" y="437.00" width="5.84" height="3.2" fill="#fbfcff"/>
<rect x="991.32" y="423.80" width="1.6" height="12.60" rx="0.8" fill="#6e83b8"/>
<rect x="996.41" y="422.60" width="4.84" height="17.00" fill="#b9c4e4" stroke="#f4f6fd" stroke-width="1.2"/>
<rect x="995.86" y="437.00" width="5.84" height="3.2" fill="#fbfcff"/>
<rect x="998.06" y="423.80" width="1.6" height="12.60" rx="0.8" fill="#6e83b8"/>
<rect x="1003.15" y="422.60" width="4.84" height="17.00" fill="#b9c4e4" stroke="#f4f6fd" stroke-width="1.2"/>
<rect x="1002.60" y="437.00" width="5.84" height="3.2" fill="#fbfcff"/>
<rect x="1004.80" y="423.80" width="1.6" height="12.60" rx="0.8" fill="#6e83b8"/>
<rect x="1009.89" y="422.60" width="4.84" height="17.00" fill="#b9c4e4" stroke="#f4f6fd" stroke-width="1.2"/>
<rect x="1009.34" y="437.00" width="5.84" height="3.2" fill="#fbfcff"/>
<rect x="1011.54" y="423.80" width="1.6" height="12.60" rx="0.8" fill="#6e83b8"/>
<rect x="1016.64" y="422.60" width="4.84" height="17.00" fill="#b9c4e4" stroke="#f4f6fd" stroke-width="1.2"/>
<rect x="1016.09" y="437.00" width="5.84" height="3.2" fill="#fbfcff"/>
<rect x="1018.29" y="423.80" width="1.6" height="12.60" rx="0.8" fill="#6e83b8"/>
<rect x="1023.38" y="422.60" width="4.84" height="17.00" fill="#b9c4e4" stroke="#f4f6fd" stroke-width="1.2"/>
<rect x="1022.83" y="437.00" width="5.84" height="3.2" fill="#fbfcff"/>
<rect x="1025.03" y="423.80" width="1.6" height="12.60" rx="0.8" fill="#6e83b8"/>
<rect x="1030.12" y="422.60" width="4.84" height="17.00" fill="#b9c4e4" stroke="#f4f6fd" stroke-width="1.2"/>
<rect x="1029.57" y="437.00" width="5.84" height="3.2" fill="#fbfcff"/>
<rect x="1031.77" y="423.80" width="1.6" height="12.60" rx="0.8" fill="#6e83b8"/>
<rect x="1036.86" y="422.60" width="4.84" height="17.00" fill="#b9c4e4" stroke="#f4f6fd" stroke-width="1.2"/>
<rect x="1036.31" y="437.00" width="5.84" height="3.2" fill="#fbfcff"/>
<rect x="1038.51" y="423.80" width="1.6" height="12.60" rx="0.8" fill="#6e83b8"/>
<path d="M1024.60 377.10 H1141.60 L1145.00 380.50 V398.30 L1141.60 401.70 H1024.60 L1021.20 398.30 V380.50 Z" fill="#7a93bf"/>
<rect x="1025.80" y="379.70" width="114.60" height="18.60" fill="#8fa3d0"/>
<rect x="1026.70" y="380.50" width="4.84" height="17.20" fill="#b9c4e4" stroke="#f4f6fd" stroke-width="1.2"/>
<rect x="1026.15" y="395.10" width="5.84" height="3.2" fill="#fbfcff"/>
<rect x="1028.35" y="381.70" width="1.6" height="12.80" rx="0.8" fill="#6e83b8"/>
<rect x="1033.44" y="380.50" width="4.84" height="17.20" fill="#b9c4e4" stroke="#f4f6fd" stroke-width="1.2"/>
<rect x="1032.89" y="395.10" width="5.84" height="3.2" fill="#fbfcff"/>
<rect x="1035.09" y="381.70" width="1.6" height="12.80" rx="0.8" fill="#6e83b8"/>
<rect x="1040.18" y="380.50" width="4.84" height="17.20" fill="#b9c4e4" stroke="#f4f6fd" stroke-width="1.2"/>
<rect x="1039.63" y="395.10" width="5.84" height="3.2" fill="#fbfcff"/>
<rect x="1041.83" y="381.70" width="1.6" height="12.80" rx="0.8" fill="#6e83b8"/>
<rect x="1046.92" y="380.50" width="4.84" height="17.20" fill="#b9c4e4" stroke="#f4f6fd" stroke-width="1.2"/>
<rect x="1046.37" y="395.10" width="5.84" height="3.2" fill="#fbfcff"/>
<rect x="1048.57" y="381.70" width="1.6" height="12.80" rx="0.8" fill="#6e83b8"/>
<rect x="1053.66" y="380.50" width="4.84" height="17.20" fill="#b9c4e4" stroke="#f4f6fd" stroke-width="1.2"/>
<rect x="1053.11" y="395.10" width="5.84" height="3.2" fill="#fbfcff"/>
<rect x="1055.31" y="381.70" width="1.6" height="12.80" rx="0.8" fill="#6e83b8"/>
<rect x="1060.41" y="380.50" width="4.84" height="17.20" fill="#b9c4e4" stroke="#f4f6fd" stroke-width="1.2"/>
<rect x="1059.86" y="395.10" width="5.84" height="3.2" fill="#fbfcff"/>
<rect x="1062.06" y="381.70" width="1.6" height="12.80" rx="0.8" fill="#6e83b8"/>
<rect x="1067.15" y="380.50" width="4.84" height="17.20" fill="#b9c4e4" stroke="#f4f6fd" stroke-width="1.2"/>
<rect x="1066.60" y="395.10" width="5.84" height="3.2" fill="#fbfcff"/>
<rect x="1068.80" y="381.70" width="1.6" height="12.80" rx="0.8" fill="#6e83b8"/>
<rect x="1073.89" y="380.50" width="4.84" height="17.20" fill="#b9c4e4" stroke="#f4f6fd" stroke-width="1.2"/>
<rect x="1073.34" y="395.10" width="5.84" height="3.2" fill="#fbfcff"/>
<rect x="1075.54" y="381.70" width="1.6" height="12.80" rx="0.8" fill="#6e83b8"/>
<rect x="1080.63" y="380.50" width="4.84" height="17.20" fill="#b9c4e4" stroke="#f4f6fd" stroke-width="1.2"/>
<rect x="1080.08" y="395.10" width="5.84" height="3.2" fill="#fbfcff"/>
<rect x="1082.28" y="381.70" width="1.6" height="12.80" rx="0.8" fill="#6e83b8"/>
<rect x="1087.37" y="380.50" width="4.84" height="17.20" fill="#b9c4e4" stroke="#f4f6fd" stroke-width="1.2"/>
<rect x="1086.82" y="395.10" width="5.84" height="3.2" fill="#fbfcff"/>
<rect x="1089.02" y="381.70" width="1.6" height="12.80" rx="0.8" fill="#6e83b8"/>
<rect x="1094.11" y="380.50" width="4.84" height="17.20" fill="#b9c4e4" stroke="#f4f6fd" stroke-width="1.2"/>
<rect x="1093.56" y="395.10" width="5.84" height="3.2" fill="#fbfcff"/>
<rect x="1095.76" y="381.70" width="1.6" height="12.80" rx="0.8" fill="#6e83b8"/>
<rect x="1100.85" y="380.50" width="4.84" height="17.20" fill="#b9c4e4" stroke="#f4f6fd" stroke-width="1.2"/>
<rect x="1100.30" y="395.10" width="5.84" height="3.2" fill="#fbfcff"/>
<rect x="1102.50" y="381.70" width="1.6" height="12.80" rx="0.8" fill="#6e83b8"/>
<rect x="1107.59" y="380.50" width="4.84" height="17.20" fill="#b9c4e4" stroke="#f4f6fd" stroke-width="1.2"/>
<rect x="1107.04" y="395.10" width="5.84" height="3.2" fill="#fbfcff"/>
<rect x="1109.24" y="381.70" width="1.6" height="12.80" rx="0.8" fill="#6e83b8"/>
<rect x="1114.34" y="380.50" width="4.84" height="17.20" fill="#b9c4e4" stroke="#f4f6fd" stroke-width="1.2"/>
<rect x="1113.79" y="395.10" width="5.84" height="3.2" fill="#fbfcff"/>
<rect x="1115.99" y="381.70" width="1.6" height="12.80" rx="0.8" fill="#6e83b8"/>
<rect x="1121.08" y="380.50" width="4.84" height="17.20" fill="#b9c4e4" stroke="#f4f6fd" stroke-width="1.2"/>
<rect x="1120.53" y="395.10" width="5.84" height="3.2" fill="#fbfcff"/>
<rect x="1122.73" y="381.70" width="1.6" height="12.80" rx="0.8" fill="#6e83b8"/>
<rect x="1127.82" y="380.50" width="4.84" height="17.20" fill="#b9c4e4" stroke="#f4f6fd" stroke-width="1.2"/>
<rect x="1127.27" y="395.10" width="5.84" height="3.2" fill="#fbfcff"/>
<rect x="1129.47" y="381.70" width="1.6" height="12.80" rx="0.8" fill="#6e83b8"/>
<rect x="1134.56" y="380.50" width="4.84" height="17.20" fill="#b9c4e4" stroke="#f4f6fd" stroke-width="1.2"/>
<rect x="1134.01" y="395.10" width="5.84" height="3.2" fill="#fbfcff"/>
<rect x="1136.21" y="381.70" width="1.6" height="12.80" rx="0.8" fill="#6e83b8"/>
<path d="M1106.00 334.00 H1224.70 L1228.10 337.40 V357.10 L1224.70 360.50 H1106.00 L1102.60 357.10 V337.40 Z" fill="#7a93bf"/>
<rect x="1107.20" y="336.60" width="116.30" height="20.50" fill="#8fa3d0"/>
<rect x="1108.10" y="337.40" width="4.94" height="19.10" fill="#b9c4e4" stroke="#f4f6fd" stroke-width="1.2"/>
<rect x="1107.55" y="353.90" width="5.94" height="3.2" fill="#fbfcff"/>
<rect x="1109.75" y="338.60" width="1.6" height="14.70" rx="0.8" fill="#6e83b8"/>
<rect x="1114.94" y="337.40" width="4.94" height="19.10" fill="#b9c4e4" stroke="#f4f6fd" stroke-width="1.2"/>
<rect x="1114.39" y="353.90" width="5.94" height="3.2" fill="#fbfcff"/>
<rect x="1116.59" y="338.60" width="1.6" height="14.70" rx="0.8" fill="#6e83b8"/>
<rect x="1121.78" y="337.40" width="4.94" height="19.10" fill="#b9c4e4" stroke="#f4f6fd" stroke-width="1.2"/>
<rect x="1121.23" y="353.90" width="5.94" height="3.2" fill="#fbfcff"/>
<rect x="1123.43" y="338.60" width="1.6" height="14.70" rx="0.8" fill="#6e83b8"/>
<rect x="1128.62" y="337.40" width="4.94" height="19.10" fill="#b9c4e4" stroke="#f4f6fd" stroke-width="1.2"/>
<rect x="1128.07" y="353.90" width="5.94" height="3.2" fill="#fbfcff"/>
<rect x="1130.27" y="338.60" width="1.6" height="14.70" rx="0.8" fill="#6e83b8"/>
<rect x="1135.46" y="337.40" width="4.94" height="19.10" fill="#b9c4e4" stroke="#f4f6fd" stroke-width="1.2"/>
<rect x="1134.91" y="353.90" width="5.94" height="3.2" fill="#fbfcff"/>
<rect x="1137.11" y="338.60" width="1.6" height="14.70" rx="0.8" fill="#6e83b8"/>
<rect x="1142.31" y="337.40" width="4.94" height="19.10" fill="#b9c4e4" stroke="#f4f6fd" stroke-width="1.2"/>
<rect x="1141.76" y="353.90" width="5.94" height="3.2" fill="#fbfcff"/>
<rect x="1143.96" y="338.60" width="1.6" height="14.70" rx="0.8" fill="#6e83b8"/>
<rect x="1149.15" y="337.40" width="4.94" height="19.10" fill="#b9c4e4" stroke="#f4f6fd" stroke-width="1.2"/>
<rect x="1148.60" y="353.90" width="5.94" height="3.2" fill="#fbfcff"/>
<rect x="1150.80" y="338.60" width="1.6" height="14.70" rx="0.8" fill="#6e83b8"/>
<rect x="1155.99" y="337.40" width="4.94" height="19.10" fill="#b9c4e4" stroke="#f4f6fd" stroke-width="1.2"/>
<rect x="1155.44" y="353.90" width="5.94" height="3.2" fill="#fbfcff"/>
<rect x="1157.64" y="338.60" width="1.6" height="14.70" rx="0.8" fill="#6e83b8"/>
<rect x="1162.83" y="337.40" width="4.94" height="19.10" fill="#b9c4e4" stroke="#f4f6fd" stroke-width="1.2"/>
<rect x="1162.28" y="353.90" width="5.94" height="3.2" fill="#fbfcff"/>
<rect x="1164.48" y="338.60" width="1.6" height="14.70" rx="0.8" fill="#6e83b8"/>
<rect x="1169.67" y="337.40" width="4.94" height="19.10" fill="#b9c4e4" stroke="#f4f6fd" stroke-width="1.2"/>
<rect x="1169.12" y="353.90" width="5.94" height="3.2" fill="#fbfcff"/>
<rect x="1171.32" y="338.60" width="1.6" height="14.70" rx="0.8" fill="#6e83b8"/>
<rect x="1176.51" y="337.40" width="4.94" height="19.10" fill="#b9c4e4" stroke="#f4f6fd" stroke-width="1.2"/>
<rect x="1175.96" y="353.90" width="5.94" height="3.2" fill="#fbfcff"/>
<rect x="1178.16" y="338.60" width="1.6" height="14.70" rx="0.8" fill="#6e83b8"/>
<rect x="1183.35" y="337.40" width="4.94" height="19.10" fill="#b9c4e4" stroke="#f4f6fd" stroke-width="1.2"/>
<rect x="1182.80" y="353.90" width="5.94" height="3.2" fill="#fbfcff"/>
<rect x="1185.00" y="338.60" width="1.6" height="14.70" rx="0.8" fill="#6e83b8"/>
<rect x="1190.19" y="337.40" width="4.94" height="19.10" fill="#b9c4e4" stroke="#f4f6fd" stroke-width="1.2"/>
<rect x="1189.64" y="353.90" width="5.94" height="3.2" fill="#fbfcff"/>
<rect x="1191.84" y="338.60" width="1.6" height="14.70" rx="0.8" fill="#6e83b8"/>
<rect x="1197.04" y="337.40" width="4.94" height="19.10" fill="#b9c4e4" stroke="#f4f6fd" stroke-width="1.2"/>
<rect x="1196.49" y="353.90" width="5.94" height="3.2" fill="#fbfcff"/>
<rect x="1198.69" y="338.60" width="1.6" height="14.70" rx="0.8" fill="#6e83b8"/>
<rect x="1203.88" y="337.40" width="4.94" height="19.10" fill="#b9c4e4" stroke="#f4f6fd" stroke-width="1.2"/>
<rect x="1203.33" y="353.90" width="5.94" height="3.2" fill="#fbfcff"/>
<rect x="1205.53" y="338.60" width="1.6" height="14.70" rx="0.8" fill="#6e83b8"/>
<rect x="1210.72" y="337.40" width="4.94" height="19.10" fill="#b9c4e4" stroke="#f4f6fd" stroke-width="1.2"/>
<rect x="1210.17" y="353.90" width="5.94" height="3.2" fill="#fbfcff"/>
<rect x="1212.37" y="338.60" width="1.6" height="14.70" rx="0.8" fill="#6e83b8"/>
<rect x="1217.56" y="337.40" width="4.94" height="19.10" fill="#b9c4e4" stroke="#f4f6fd" stroke-width="1.2"/>
<rect x="1217.01" y="353.90" width="5.94" height="3.2" fill="#fbfcff"/>
<rect x="1219.21" y="338.60" width="1.6" height="14.70" rx="0.8" fill="#6e83b8"/>
</svg>

<!-- left texts -->
<div class="t title" style="left:60px;top:60.8px;">原系统：</div>
<div class="sq" style="left:63px;top:116px;width:11px;height:11px;"></div>
<div class="sq" style="left:63px;top:150px;width:11px;height:11px;"></div>
<div class="sq" style="left:63px;top:184px;width:11px;height:11px;"></div>
<div class="t li" style="left:95.3px;top:113.7px;">小型机<span style="letter-spacing:0.7px"> × 2</span></div>
<div class="t li" style="left:97.5px;top:146.6px;"><span style="letter-spacing:0.1px">FC</span><span style="letter-spacing:1.6px"> </span>网络</div>
<div class="t li" style="left:97.5px;top:181.5px;">高端磁盘阵列</div>
<div class="t bold16" style="left:60.3px;top:347.7px;">典型传统架构，计算、</div>
<div class="t bold16" style="left:60.3px;top:379px;"><span style="font-weight:normal;font-size:17px;letter-spacing:0.2px;">IO</span>均存在瓶颈，基本</div>
<div class="t bold16" style="left:60.3px;top:412.3px;">无法横向扩展</div>

<div class="t lab" style="left:339.5px;top:48px;">P570</div>
<div class="t lab" style="left:507.8px;top:48px;">Power750</div>
<div class="t lab" style="left:440px;top:168.5px;letter-spacing:0;">FC</div>
<div class="t lab" style="left:417px;top:225.5px;letter-spacing:0.5px;">DS8700</div>

<!-- right texts -->
<div class="t title" style="left:717px;top:48.8px;">现系统：</div>
<div class="sq" style="left:724px;top:93px;width:10.5px;height:10.5px;"></div>
<div class="sq" style="left:724px;top:128px;width:10.5px;height:10.5px;"></div>
<div class="sq" style="left:724px;top:161px;width:10.5px;height:10.5px;"></div>
<div class="t ri" style="left:750px;top:89.1px;">通用计算节点 × 3</div>
<div class="t ri" style="left:750px;top:125px;">IB 网络（interconnect、SAN）</div>
<div class="t ri" style="left:750px;top:160px;">通用存储节点 × 5</div>

<div class="t bold16" style="right:66.6px;top:78.5px;font-size:16px;letter-spacing:1.8px;">高速互联</div>
<div class="t bold16" style="right:68.1px;top:109.3px;font-size:16px;letter-spacing:0.3px;">高<span style="font-weight:normal;font-size:17px;letter-spacing:0.2px;">IO</span></div>
<div class="t bold16" style="right:66.6px;top:143.5px;font-size:16px;letter-spacing:1.8px;">高扩展性</div>

<div class="t li" style="left:953px;top:201.3px;color:#666;letter-spacing:0.4px;">计算节点</div>
<div class="t lab" style="left:977px;top:287px;font-size:16.5px;letter-spacing:0;">IB</div>
<div class="t li" style="left:969px;top:451.2px;color:#666;font-size:15px;letter-spacing:0px;">存储节点</div>
</body>
</html>
